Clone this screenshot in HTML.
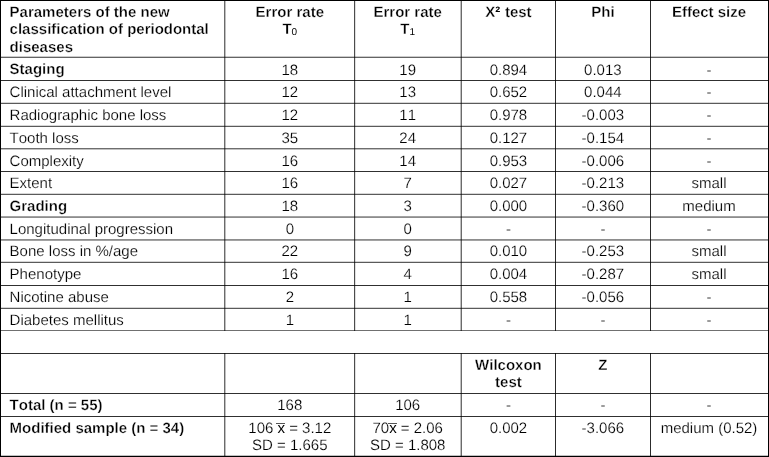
<!DOCTYPE html>
<html><head><meta charset="utf-8"><title>Table</title>
<style>
html,body{margin:0;padding:0;background:#fff;}
body{width:769px;height:457px;position:relative;overflow:hidden;font-family:"Liberation Sans",Arial,sans-serif;font-size:15px;line-height:17.25px;color:#111;font-kerning:none;text-rendering:geometricPrecision;filter:grayscale(1);}
.h{position:absolute;left:1px;width:767px;height:1px;background:#4a4a4a;}
.v{position:absolute;width:1px;background:#4a4a4a;}
.t{position:absolute;white-space:nowrap;color:#000;-webkit-text-stroke:0.18px #fff;}
.c{text-align:center;width:200px;margin-left:-100px;}
.b{font-weight:bold;-webkit-text-stroke:0.3px #fff;color:#000;}
.ob{position:absolute;background:#000;}
sub.s{font-size:10px;font-weight:normal;-webkit-text-stroke:0;letter-spacing:0;vertical-align:baseline;position:relative;top:1px;line-height:0;}
.p2{-webkit-text-stroke:0;margin-right:0.5px;}
sup.s{font-size:9px;-webkit-text-stroke:0;letter-spacing:0;vertical-align:baseline;position:relative;top:-3.8px;line-height:0;}
.xb{display:inline-block;position:relative;line-height:1;-webkit-text-stroke:0;}
.xb::before{content:"";position:absolute;left:-1.4px;right:-0.3px;top:2.2px;height:1px;background:#555;}
</style></head><body>

<div class="ob" style="left:0;top:0;width:769px;height:1px"></div>
<div class="ob" style="left:0;top:456px;width:769px;height:1px"></div>
<div class="ob" style="left:0;top:455px;width:769px;height:1px;background:#c0c0c0"></div>
<div class="ob" style="left:0;top:0;width:1.25px;height:457px"></div>
<div class="ob" style="left:768px;top:0;width:1px;height:457px"></div>
<div class="h" style="top:56px;background:rgba(0,0,0,0.203)"></div>
<div class="h" style="top:57px;background:rgba(0,0,0,0.609)"></div>
<div class="h" style="top:80px;background:rgba(0,0,0,0.812)"></div>
<div class="h" style="top:102px;background:rgba(0,0,0,0.162)"></div>
<div class="h" style="top:103px;background:rgba(0,0,0,0.649)"></div>
<div class="h" style="top:125px;background:rgba(0,0,0,0.162)"></div>
<div class="h" style="top:126px;background:rgba(0,0,0,0.649)"></div>
<div class="h" style="top:148px;background:rgba(0,0,0,0.568)"></div>
<div class="h" style="top:149px;background:rgba(0,0,0,0.244)"></div>
<div class="h" style="top:171px;background:rgba(0,0,0,0.812)"></div>
<div class="h" style="top:193px;background:rgba(0,0,0,0.162)"></div>
<div class="h" style="top:194px;background:rgba(0,0,0,0.649)"></div>
<div class="h" style="top:216px;background:rgba(0,0,0,0.365)"></div>
<div class="h" style="top:217px;background:rgba(0,0,0,0.446)"></div>
<div class="h" style="top:239px;background:rgba(0,0,0,0.446)"></div>
<div class="h" style="top:240px;background:rgba(0,0,0,0.365)"></div>
<div class="h" style="top:261px;background:rgba(0,0,0,0.162)"></div>
<div class="h" style="top:262px;background:rgba(0,0,0,0.649)"></div>
<div class="h" style="top:285px;background:rgba(0,0,0,0.812)"></div>
<div class="h" style="top:307px;background:rgba(0,0,0,0.162)"></div>
<div class="h" style="top:308px;background:rgba(0,0,0,0.649)"></div>
<div class="h" style="top:330px;background:rgba(0,0,0,0.561)"></div>
<div class="h" style="top:353px;background:rgba(0,0,0,0.812)"></div>
<div class="h" style="top:393px;background:rgba(0,0,0,0.812)"></div>
<div class="h" style="top:416px;background:rgba(0,0,0,0.812)"></div>
<div class="v" style="left:224px;top:1px;height:330px;background:rgba(0,0,0,0.579)"></div>
<div class="v" style="left:224px;top:353px;height:103px;background:rgba(0,0,0,0.579)"></div>
<div class="v" style="left:225px;top:1px;height:330px;background:rgba(0,0,0,0.248)"></div>
<div class="v" style="left:225px;top:353px;height:103px;background:rgba(0,0,0,0.248)"></div>
<div class="v" style="left:354px;top:1px;height:330px;background:rgba(0,0,0,0.703)"></div>
<div class="v" style="left:354px;top:353px;height:103px;background:rgba(0,0,0,0.703)"></div>
<div class="v" style="left:355px;top:1px;height:330px;background:rgba(0,0,0,0.124)"></div>
<div class="v" style="left:355px;top:353px;height:103px;background:rgba(0,0,0,0.124)"></div>
<div class="v" style="left:460px;top:1px;height:330px;background:rgba(0,0,0,0.248)"></div>
<div class="v" style="left:460px;top:353px;height:103px;background:rgba(0,0,0,0.248)"></div>
<div class="v" style="left:461px;top:1px;height:330px;background:rgba(0,0,0,0.579)"></div>
<div class="v" style="left:461px;top:353px;height:103px;background:rgba(0,0,0,0.579)"></div>
<div class="v" style="left:555px;top:1px;height:330px;background:rgba(0,0,0,0.827)"></div>
<div class="v" style="left:555px;top:353px;height:103px;background:rgba(0,0,0,0.827)"></div>
<div class="v" style="left:650px;top:1px;height:330px;background:rgba(0,0,0,0.827)"></div>
<div class="v" style="left:650px;top:353px;height:103px;background:rgba(0,0,0,0.827)"></div>
<div class="t b" style="left:9.6px;top:4px">Parameters of the new</div>
<div class="t b" style="left:9.6px;top:21px">classification of periodontal</div>
<div class="t b" style="left:9.6px;top:39px">diseases</div>
<div class="t b c" style="left:289.80px;top:4px">Error rate</div>
<div class="t b c" style="left:289.80px;top:21px">T<sub class="s">0</sub></div>
<div class="t b c" style="left:407.70px;top:4px">Error rate</div>
<div class="t b c" style="left:407.70px;top:21px">T<sub class="s">1</sub></div>
<div class="t b c" style="left:508.45px;top:4px">X<span class="p2">²</span> test</div>
<div class="t b c" style="left:602.90px;top:4px">Phi</div>
<div class="t b c" style="left:709.00px;top:4px">Effect size</div>
<div class="t b" style="left:9.6px;top:61px">Staging</div>
<div class="t c" style="left:289.80px;top:62px">18</div>
<div class="t c" style="left:407.70px;top:62px">19</div>
<div class="t c" style="left:508.45px;top:62px">0.894</div>
<div class="t c" style="left:602.90px;top:62px">0.013</div>
<div class="t c" style="left:709.00px;top:62px">-</div>
<div class="t" style="left:9.6px;top:84px">Clinical attachment level</div>
<div class="t c" style="left:289.80px;top:84px">12</div>
<div class="t c" style="left:407.70px;top:84px">13</div>
<div class="t c" style="left:508.45px;top:84px">0.652</div>
<div class="t c" style="left:602.90px;top:84px">0.044</div>
<div class="t c" style="left:709.00px;top:84px">-</div>
<div class="t" style="left:9.6px;top:107px">Radiographic bone loss</div>
<div class="t c" style="left:289.80px;top:107px">12</div>
<div class="t c" style="left:407.70px;top:107px">11</div>
<div class="t c" style="left:508.45px;top:107px">0.978</div>
<div class="t c" style="left:602.90px;top:107px">-0.003</div>
<div class="t c" style="left:709.00px;top:107px">-</div>
<div class="t" style="left:9.6px;top:130px">Tooth loss</div>
<div class="t c" style="left:289.80px;top:130px">35</div>
<div class="t c" style="left:407.70px;top:130px">24</div>
<div class="t c" style="left:508.45px;top:130px">0.127</div>
<div class="t c" style="left:602.90px;top:130px">-0.154</div>
<div class="t c" style="left:709.00px;top:130px">-</div>
<div class="t" style="left:9.6px;top:153px">Complexity</div>
<div class="t c" style="left:289.80px;top:153px">16</div>
<div class="t c" style="left:407.70px;top:153px">14</div>
<div class="t c" style="left:508.45px;top:153px">0.953</div>
<div class="t c" style="left:602.90px;top:153px">-0.006</div>
<div class="t c" style="left:709.00px;top:153px">-</div>
<div class="t" style="left:9.6px;top:175px">Extent</div>
<div class="t c" style="left:289.80px;top:175px">16</div>
<div class="t c" style="left:407.70px;top:175px">7</div>
<div class="t c" style="left:508.45px;top:175px">0.027</div>
<div class="t c" style="left:602.90px;top:175px">-0.213</div>
<div class="t c" style="left:709.00px;top:175px">small</div>
<div class="t b" style="left:9.6px;top:198px">Grading</div>
<div class="t c" style="left:289.80px;top:198px">18</div>
<div class="t c" style="left:407.70px;top:198px">3</div>
<div class="t c" style="left:508.45px;top:198px">0.000</div>
<div class="t c" style="left:602.90px;top:198px">-0.360</div>
<div class="t c" style="left:709.00px;top:198px">medium</div>
<div class="t" style="left:9.6px;top:221px">Longitudinal progression</div>
<div class="t c" style="left:289.80px;top:221px">0</div>
<div class="t c" style="left:407.70px;top:221px">0</div>
<div class="t c" style="left:508.45px;top:221px">-</div>
<div class="t c" style="left:602.90px;top:221px">-</div>
<div class="t c" style="left:709.00px;top:221px">-</div>
<div class="t" style="left:9.6px;top:243px">Bone loss in %/age</div>
<div class="t c" style="left:289.80px;top:243px">22</div>
<div class="t c" style="left:407.70px;top:243px">9</div>
<div class="t c" style="left:508.45px;top:243px">0.010</div>
<div class="t c" style="left:602.90px;top:243px">-0.253</div>
<div class="t c" style="left:709.00px;top:243px">small</div>
<div class="t" style="left:9.6px;top:266px">Phenotype</div>
<div class="t c" style="left:289.80px;top:266px">16</div>
<div class="t c" style="left:407.70px;top:266px">4</div>
<div class="t c" style="left:508.45px;top:266px">0.004</div>
<div class="t c" style="left:602.90px;top:266px">-0.287</div>
<div class="t c" style="left:709.00px;top:266px">small</div>
<div class="t" style="left:9.6px;top:289px">Nicotine abuse</div>
<div class="t c" style="left:289.80px;top:289px">2</div>
<div class="t c" style="left:407.70px;top:289px">1</div>
<div class="t c" style="left:508.45px;top:289px">0.558</div>
<div class="t c" style="left:602.90px;top:289px">-0.056</div>
<div class="t c" style="left:709.00px;top:289px">-</div>
<div class="t" style="left:9.6px;top:312px">Diabetes mellitus</div>
<div class="t c" style="left:289.80px;top:312px">1</div>
<div class="t c" style="left:407.70px;top:312px">1</div>
<div class="t c" style="left:508.45px;top:312px">-</div>
<div class="t c" style="left:602.90px;top:312px">-</div>
<div class="t c" style="left:709.00px;top:312px">-</div>
<div class="t b c" style="left:508.45px;top:357px">Wilcoxon</div>
<div class="t b c" style="left:508.45px;top:374px">test</div>
<div class="t b c" style="left:602.90px;top:357px">Z</div>
<div class="t b" style="left:9.6px;top:397px">Total (n = 55)</div>
<div class="t c" style="left:289.80px;top:397px">168</div>
<div class="t c" style="left:407.70px;top:397px">106</div>
<div class="t c" style="left:508.45px;top:397px">-</div>
<div class="t c" style="left:602.90px;top:397px">-</div>
<div class="t c" style="left:709.00px;top:397px">-</div>
<div class="t b" style="left:9.6px;top:420px">Modified sample (n = 34)</div>
<div class="t c" style="left:289.80px;top:420px">106 <span class="xb">x</span> = 3.12</div>
<div class="t c" style="left:289.80px;top:437px">SD = 1.665</div>
<div class="t c" style="left:407.70px;top:420px">70<span class="xb">x</span> = 2.06</div>
<div class="t c" style="left:407.70px;top:437px">SD = 1.808</div>
<div class="t c" style="left:508.45px;top:420px">0.002</div>
<div class="t c" style="left:602.90px;top:420px">-3.066</div>
<div class="t c" style="left:709.00px;top:420px">medium (0.52)</div>
</body></html>
